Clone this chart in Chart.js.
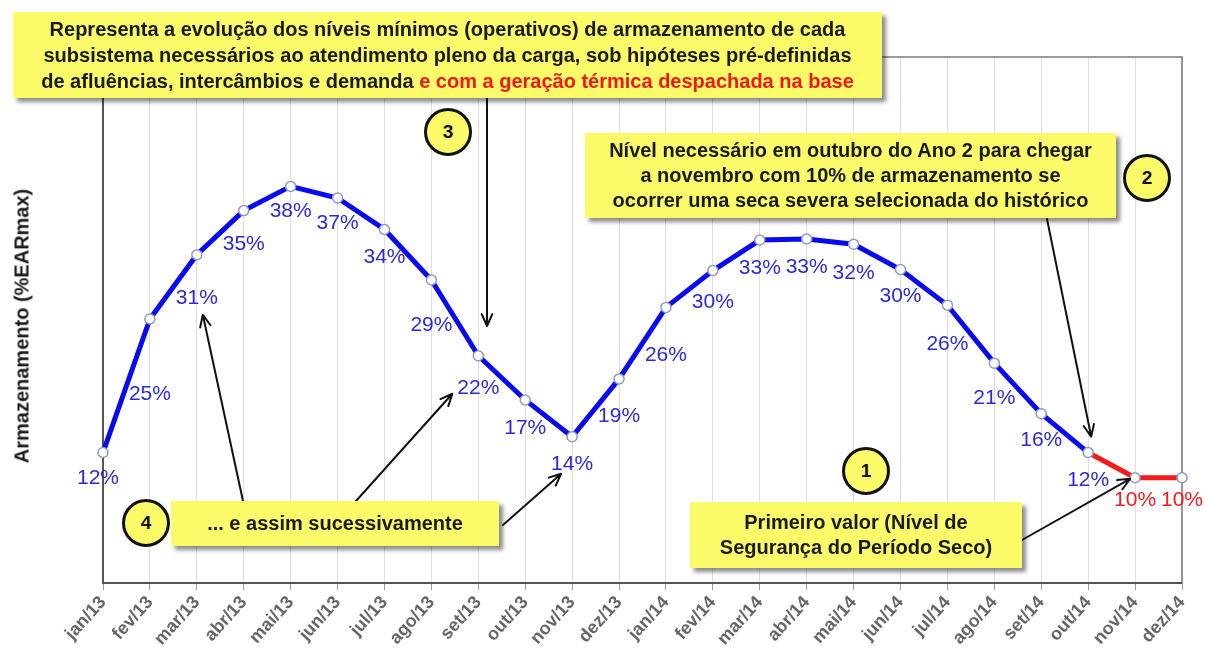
<!DOCTYPE html>
<html lang="pt-BR">
<head>
<meta charset="utf-8">
<title>Armazenamento (%EARmax)</title>
<script src="https://cdn.jsdelivr.net/npm/chart.js@4.4.1/dist/chart.umd.min.js"></script>
<style>
  html, body { margin: 0; padding: 0; background: #fff; }
  #wrap { position: relative; width: 1205px; height: 666px; overflow: hidden; font-family: Arial, "Liberation Sans", sans-serif; }
  #grafico { position: absolute; left: 0; top: 0; }
  .caixa {
    position: absolute; background: #fbfb6a; color: #1a1a1a; font-weight: bold;
    text-align: center; box-shadow: 4px 4px 4px rgba(0,0,0,0.45);
    display: flex; flex-direction: column; justify-content: center; white-space: nowrap;
  }
  .caixa .verm { color: #f01818; }
  .circulo {
    position: absolute; width: 42px; height: 42px; border-radius: 50%;
    border: 3px solid #111; background: #fbfb6a; color: #111;
    font-weight: bold; font-size: 19px; line-height: 42px; text-align: center;
  }
  #tituloY {
    position: absolute; left: 22px; top: 326px; transform: translate(-50%, -50%) rotate(-90deg);
    font-weight: bold; font-size: 20px; color: #1a1a1a; white-space: nowrap;
  }
</style>
</head>
<body>
<div id="wrap">
  <canvas id="grafico" width="1205" height="666"></canvas>
  <div id="tituloY">Armazenamento (%EARmax)</div>

  <div class="caixa" style="left:13px;top:12px;width:869px;height:86px;font-size:20px;line-height:26px;">
    <div>Representa a evolução dos níveis mínimos (operativos) de armazenamento de cada</div>
    <div>subsistema necessários ao atendimento pleno da carga, sob hipóteses pré-definidas</div>
    <div>de afluências, intercâmbios e demanda <span class="verm">e com a geração térmica despachada na base</span></div>
  </div>

  <div class="caixa" style="left:585px;top:133px;width:531px;height:85px;font-size:20px;line-height:25px;">
    <div>Nível necessário em outubro do Ano 2 para chegar</div>
    <div>a novembro com 10% de armazenamento se</div>
    <div>ocorrer uma seca severa selecionada do histórico</div>
  </div>

  <div class="caixa" style="left:171px;top:501px;width:328px;height:45px;font-size:20px;">
    <div>... e assim sucessivamente</div>
  </div>

  <div class="caixa" style="left:690px;top:502px;width:332px;height:66px;font-size:20px;line-height:25px;">
    <div>Primeiro valor (Nível de</div>
    <div>Segurança do Período Seco)</div>
  </div>

  <div class="circulo" style="left:424px;top:108px;">3</div>
  <div class="circulo" style="left:1123px;top:154px;">2</div>
  <div class="circulo" style="left:842px;top:447px;">1</div>
  <div class="circulo" style="left:122px;top:499px;">4</div>
</div>

<script>
// meses do horizonte (Ano 1 e Ano 2)
const meses = ['jan/13', 'fev/13', 'mar/13', 'abr/13', 'mai/13', 'jun/13',
               'jul/13', 'ago/13', 'set/13', 'out/13', 'nov/13', 'dez/13',
               'jan/14', 'fev/14', 'mar/14', 'abr/14', 'mai/14', 'jun/14',
               'jul/14', 'ago/14', 'set/14', 'out/14', 'nov/14', 'dez/14'];

// armazenamento mínimo (% EARmax)
const armazenamento = [12.4, 25.1, 31.2, 35.4, 37.7, 36.6,
                       33.6, 28.8, 21.6, 17.4, 13.9, 19.4,
                       26.2, 29.7, 32.6, 32.7, 32.2, 29.8,
                       26.4, 20.9, 16.1, 12.4, 10.0, 10.0];

// rótulos exibidos junto aos pontos
const rotulos = armazenamento.map(v => Math.round(v) + '%');

// a partir deste índice a curva é o trecho da seca severa (vermelho)
const inicioSeca = 21;

// deslocamento vertical de cada rótulo abaixo do ponto
const desvioRotulo = [26, 75, 43, 34, 25, 25, 28, 45, 32, 28, 27, 37,
                      48, 32, 28, 28, 29, 27, 39, 35, 27, 28, 22, 22];

const AZUL = '#0a0af0';
const VERMELHO = '#f21a1a';

// moldura da área do gráfico
const moldura = {
    id: 'moldura',
    beforeDatasetsDraw(chart) {
        const { ctx, chartArea: a } = chart;
        ctx.save();
        ctx.strokeStyle = '#7a7a7a';
        ctx.lineWidth = 1.5;
        ctx.beginPath();
        ctx.moveTo(a.left, a.top);
        ctx.lineTo(a.right, a.top);
        ctx.lineTo(a.right, a.bottom);
        ctx.stroke();
        ctx.strokeStyle = '#555';
        ctx.lineWidth = 2;
        ctx.beginPath();
        ctx.moveTo(a.left, a.top);
        ctx.lineTo(a.left, a.bottom);
        ctx.lineTo(a.right, a.bottom);
        ctx.stroke();
        ctx.restore();
    }
};

// rótulos de percentual
const rotulosPontos = {
    id: 'rotulosPontos',
    afterDatasetsDraw(chart) {
        const { ctx } = chart;
        const pts = chart.getDatasetMeta(0).data;
        ctx.save();
        ctx.font = '21px Arial, "Liberation Sans", sans-serif';
        ctx.textAlign = 'center';
        ctx.textBaseline = 'middle';
        pts.forEach((p, i) => {
            ctx.fillStyle = i > inicioSeca ? VERMELHO : '#2a2ad8';
            const dx = i === 0 ? -5 : 0;
            ctx.fillText(rotulos[i], p.x + dx, p.y + desvioRotulo[i]);
        });
        ctx.restore();
    }
};

// setas das anotações
function seta(ctx, x1, y1, x2, y2) {
    const ang = Math.atan2(y2 - y1, x2 - x1);
    const tam = 13, abertura = 0.42;
    ctx.beginPath();
    ctx.moveTo(x1, y1);
    ctx.lineTo(x2, y2);
    ctx.moveTo(x2 - tam * Math.cos(ang - abertura), y2 - tam * Math.sin(ang - abertura));
    ctx.lineTo(x2, y2);
    ctx.lineTo(x2 - tam * Math.cos(ang + abertura), y2 - tam * Math.sin(ang + abertura));
    ctx.stroke();
}

const setas = {
    id: 'setas',
    afterDraw(chart) {
        const { ctx } = chart;
        const pts = chart.getDatasetMeta(0).data;
        ctx.save();
        ctx.strokeStyle = '#111';
        ctx.lineWidth = 2;
        ctx.lineCap = 'round';
        ctx.lineJoin = 'round';
        seta(ctx, 487, 98, 487, 326);
        seta(ctx, 1047, 219, pts[21].x + 3, pts[21].y - 16);
        seta(ctx, 243, 501, pts[2].x + 6, pts[2].y + 60);
        seta(ctx, 356, 501, pts[8].x - 26, pts[8].y + 38);
        seta(ctx, 503, 525, pts[10].x - 11, pts[10].y + 37);
        seta(ctx, 1022, 540, pts[22].x - 5, pts[22].y + 1);
        ctx.restore();
    }
};

const ctx = document.getElementById('grafico').getContext('2d');

new Chart(ctx, {
    type: 'line',
    data: {
        labels: meses,
        datasets: [{
            data: armazenamento,
            borderColor: AZUL,
            borderWidth: 5,
            segment: {
                borderColor: c => c.p0DataIndex >= inicioSeca ? VERMELHO : AZUL
            },
            pointRadius: 5,
            pointBackgroundColor: '#ffffff',
            pointBorderColor: '#8c9cc4',
            pointBorderWidth: 1.5,
            tension: 0
        }]
    },
    options: {
        responsive: false,
        animation: false,
        layout: {
            autoPadding: false,
            padding: { left: 103, right: 23, top: 57, bottom: 0 }
        },
        plugins: {
            legend: { display: false },
            tooltip: { enabled: false }
        },
        scales: {
            x: {
                afterFit: s => { s.height = 83; },
                border: { display: false },
                grid: { color: '#dedede', tickColor: '#999', tickLength: 7 },
                ticks: {
                    autoSkip: false,
                    maxRotation: 48,
                    minRotation: 48,
                    padding: 2,
                    color: '#666',
                    font: { family: 'Arial, "Liberation Sans", sans-serif', size: 18, weight: 'bold' }
                }
            },
            y: {
                display: false,
                min: 0,
                max: 50
            }
        }
    },
    plugins: [moldura, rotulosPontos, setas]
});
</script>
</body>
</html>
